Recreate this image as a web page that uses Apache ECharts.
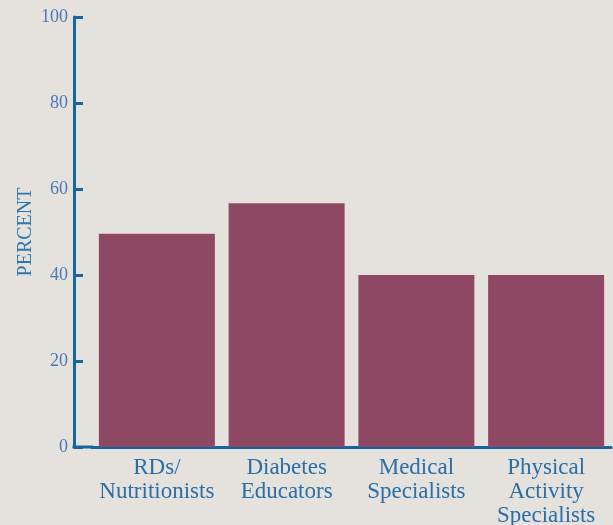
<!DOCTYPE html>
<html>
<head>
<meta charset="utf-8">
<title>Percent by specialist</title>
<script src="https://cdn.jsdelivr.net/npm/echarts@6/dist/echarts.min.js"></script>
<style>
  html, body { margin: 0; padding: 0; background: #e5e2dd; }
  #chart { width: 613px; height: 525px; }
</style>
</head>
<body>
<div id="chart"></div>
<script>
// Categories along the bottom axis
const categories = [
  'RDs/\nNutritionists',
  'Diabetes\nEducators',
  'Medical\nSpecialists',
  'Physical\nActivity\nSpecialists'
];
// Percent for each category
const percentValues = [49.6, 56.7, 40, 40];
// Value axis range and step
const yMin = 0;
const yMax = 100;
const yStep = 20;
const yTitle = 'PERCENT';

const AXIS_BLUE = '#1565a0';
const SERIF = '"Liberation Serif", "DejaVu Serif", serif';

const chart = echarts.init(document.getElementById('chart'));

const option = {
  backgroundColor: '#e5e2dd',
  animation: false,
  grid: {
    left: 92, right: 2, top: 17, bottom: 78,
    containLabel: false,
    outerBoundsMode: 'none'
  },
  xAxis: {
    type: 'category',
    data: categories,
    axisLine: { show: true, lineStyle: { color: AXIS_BLUE, width: 3 } },
    axisTick: { show: false },
    axisLabel: {
      color: '#2a6ea8',
      fontFamily: SERIF,
      fontSize: 23,
      lineHeight: 24,
      margin: 9,
      interval: 0
    }
  },
  yAxis: {
    type: 'value',
    min: yMin,
    max: yMax,
    interval: yStep,
    offset: 18,
    name: yTitle,
    nameLocation: 'middle',
    nameRotate: 90,
    nameGap: 38,
    nameMoveOverlap: false,
    nameTextStyle: { color: '#2e78b0', fontFamily: SERIF, fontSize: 20 },
    splitLine: { show: false },
    axisLine: { show: true, lineStyle: { color: AXIS_BLUE, width: 3 } },
    axisTick: { show: true, inside: true, length: 9, lineStyle: { color: AXIS_BLUE, width: 3 } },
    axisLabel: {
      color: '#4a78b8',
      fontFamily: SERIF,
      fontSize: 18,
      margin: 6
    }
  },
  series: [{
    type: 'bar',
    data: percentValues,
    barWidth: 116,
    itemStyle: { color: '#8e4864' },
    silent: true
  }]
};

chart.setOption(option);

// Join the offset value axis to the category axis baseline
const base = chart.convertToPixel({ gridIndex: 0 }, [0, yMin]);
const gridRect = chart.getModel().getComponent('grid', 0).coordinateSystem.getRect();
chart.setOption({
  graphic: [{
    type: 'line',
    shape: { x1: gridRect.x - 19.5, y1: base[1], x2: gridRect.x + 1, y2: base[1] },
    style: { stroke: AXIS_BLUE, lineWidth: 3 },
    silent: true
  }]
});
</script>
</body>
</html>
